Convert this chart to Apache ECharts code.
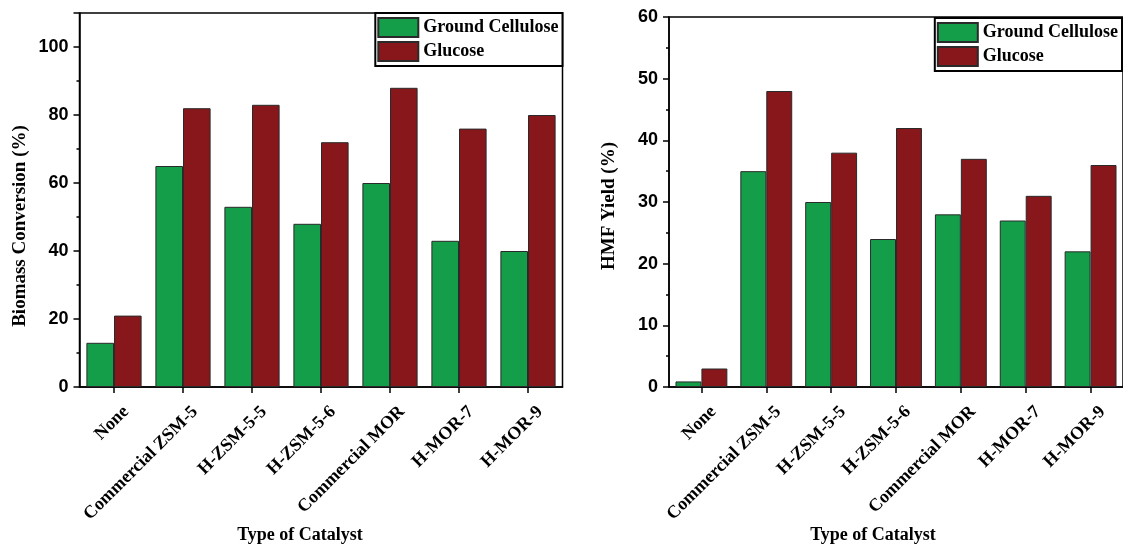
<!DOCTYPE html>
<html>
<head>
<meta charset="utf-8">
<script src="https://cdn.jsdelivr.net/npm/echarts@6/dist/echarts.min.js"></script>
<style>
html,body{margin:0;padding:0;background:#fff;}
#c{width:1123px;height:544px;}
</style>
</head>
<body>
<div id="c"></div>
<script>
const categories = ['None', 'Commercial ZSM-5', 'H-ZSM-5-5', 'H-ZSM-5-6', 'Commercial MOR', 'H-MOR-7', 'H-MOR-9'];
const seriesNames = ['Ground Cellulose', 'Glucose'];
const conversionCellulose = [13, 65, 53, 48, 60, 43, 40];
const conversionGlucose = [21, 82, 83, 72, 88, 76, 80];
const yieldCellulose = [0.9, 35, 30, 24, 28, 27, 22];
const yieldGlucose = [3, 48, 38, 42, 37, 31, 36];

const GREEN = '#149e4a';
const RED = '#87171a';
const SERIF = 'Liberation Serif';
const SANS = 'Liberation Sans';

const chart = echarts.init(document.getElementById('c'), null, {renderer: 'canvas'});

function xAxisCfg(gridIndex, namePad) {
  return {
    type: 'category', gridIndex: gridIndex, data: categories,
    axisLine: {lineStyle: {color: '#000', width: 1.5}},
    axisTick: {show: true, alignWithLabel: true, length: 6, lineStyle: {color: '#000', width: 1.5}},
    axisLabel: {rotate: 45, margin: 34, fontFamily: SERIF, fontWeight: 'bold', fontSize: 18, color: '#000',
      padding: [0, -17, 0, 0], interval: 0},
    name: 'Type of Catalyst', nameLocation: 'middle', nameGap: 139, nameMoveOverlap: false,
    nameTextStyle: {fontFamily: SERIF, fontWeight: 'bold', fontSize: 18, color: '#000', padding: namePad}
  };
}
function yAxisCfg(gridIndex, max, interval, name, namePad) {
  return {
    type: 'value', gridIndex: gridIndex, min: 0, max: max, interval: interval,
    axisLine: {show: true, lineStyle: {color: '#000', width: 1.5}},
    axisTick: {show: true, length: 6, lineStyle: {color: '#000', width: 1.5}},
    minorTick: {show: true, splitNumber: 2, length: 3, lineStyle: {color: '#000', width: 1.5}},
    splitLine: {show: false},
    axisLabel: {margin: 11, fontFamily: SANS, fontWeight: 'bold', fontSize: 18, color: '#000', showMaxLabel: max % interval === 0},
    name: name, nameLocation: 'middle', nameGap: 50, nameMoveOverlap: false,
    nameTextStyle: {fontFamily: SERIF, fontWeight: 'bold', fontSize: 19, color: '#000', padding: namePad}
  };
}
function legendCfg(right, top) {
  return {
    data: seriesNames, orient: 'vertical', right: right, top: top,
    icon: 'rect',
    itemWidth: 40, itemHeight: 19, itemGap: 3, padding: [4, 4, 4, 2],
    borderColor: '#000', borderWidth: 2, backgroundColor: '#fff',
    textStyle: {fontFamily: SERIF, fontWeight: 'bold', fontSize: 18, color: '#000'},
    selectedMode: false
  };
}
function barSeries(name, xi, data, color) {
  return {
    name: name, type: 'bar', xAxisIndex: xi, yAxisIndex: xi, data: data,
    barGap: '0%', barCategoryGap: '20%',
    itemStyle: {color: color, borderColor: '#2a2a2a', borderWidth: 1},
    animation: false
  };
}

chart.setOption({
  animation: false,
  backgroundColor: '#fff',
  grid: [
    {left: 79.5, top: 13, right: 1123 - 562.5, bottom: 157, show: true, borderColor: '#000', borderWidth: 1.5,
      containLabel: false, outerBoundsMode: 'none'},
    {left: 669, top: 17, right: 0, bottom: 157, show: true, borderColor: '#000', borderWidth: 1.5,
      containLabel: false, outerBoundsMode: 'none'}
  ],
  legend: [legendCfg(1123 - 562.5, 13), legendCfg(1, 18)],
  xAxis: [xAxisCfg(0, [0, 42, 0, 0]), xAxisCfg(1, [0, 46, 0, 0])],
  yAxis: [
    yAxisCfg(0, 110, 20, 'Biomass Conversion (%)', [0, 52, 0, 0]),
    yAxisCfg(1, 60, 10, 'HMF Yield (%)', [0, 8, 0, 0])
  ],
  series: [
    barSeries(seriesNames[0], 0, conversionCellulose, GREEN),
    barSeries(seriesNames[1], 0, conversionGlucose, RED),
    barSeries(seriesNames[0], 1, yieldCellulose, GREEN),
    barSeries(seriesNames[1], 1, yieldGlucose, RED)
  ]
});
</script>
</body>
</html>
